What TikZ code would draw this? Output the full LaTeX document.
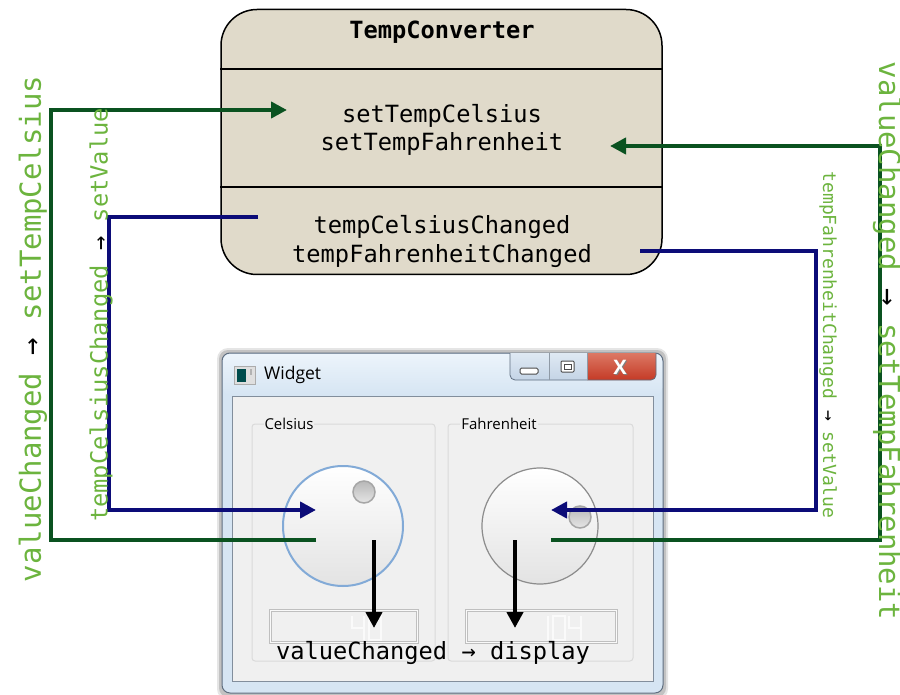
\documentclass[tikz,border=0pt]{standalone}
\usepackage{fontspec}
\setmonofont{DejaVu Sans Mono}
\newfontfamily\uifont{Open Sans}
\usetikzlibrary{arrows.meta}
\definecolor{boxfill}{RGB}{224,218,202}
\definecolor{sigGreen}{RGB}{10,82,32}
\definecolor{sigNavy}{RGB}{12,12,120}
\definecolor{lblGreen}{RGB}{108,180,62}
\definecolor{clientbg}{RGB}{240,240,240}
\definecolor{framebl}{RGB}{214,229,243}
\definecolor{frametop}{RGB}{236,244,251}
\definecolor{winborder}{RGB}{95,110,128}
\definecolor{clientborder}{RGB}{130,142,156}
\definecolor{groupborder}{RGB}{218,218,218}
\definecolor{closeTop}{RGB}{232,150,130}
\definecolor{closeBot}{RGB}{196,58,38}
\definecolor{btnTop}{RGB}{236,243,250}
\definecolor{btnBot}{RGB}{196,212,230}
\definecolor{dialBlue}{RGB}{130,170,215}
\begin{document}
\begin{tikzpicture}[x=1pt,y=-1pt,
  conn/.style={line width=4.5pt},
  tipend/.style={-{Triangle[length=16pt,width=16pt]}},
  monotxt/.style={font=\ttfamily\fontsize{23.7}{28}\selectfont, inner sep=0pt},
  biglbl/.style={font=\ttfamily\fontsize{29}{34}\selectfont, text=lblGreen, inner sep=0pt},
  lcdseg/.style={draw=gray!45, line width=0.6pt, double=white!96!gray, double distance=1.3pt},
  lcdfour/.pic={\draw[lcdseg] (0,0)--(0,12)--(12,12); \draw[lcdseg] (12,0)--(12,24);},
  lcdzero/.pic={\draw[lcdseg] (0,0) rectangle (12,24);},
  lcdone/.pic={\draw[lcdseg] (12,0)--(12,24);},
  uitxt/.style={font=\uifont\fontsize{15}{18}\selectfont, inner sep=1pt, text=black},
]
\useasboundingbox (0,0) rectangle (900,695);
\fill[white] (0,0) rectangle (900,695);

% ================= Widget window =================
\fill[black, opacity=0.10, rounded corners=11] (217,348) rectangle (668,700);
\fill[black, opacity=0.15, rounded corners=9] (219,350) rectangle (666,697);
\draw[fill=framebl, draw=winborder, line width=1pt, rounded corners=8] (222,353) rectangle (663,693);
\shade[top color=frametop, bottom color=framebl, rounded corners=7] (223,354) rectangle (662,395);
\node[draw=clientborder, fill=clientbg, line width=1pt, minimum width=421pt, minimum height=285pt, inner sep=0pt] (client) at (442.5,538.5) {};
% icon
\draw[fill=gray!25, draw=gray!65] (234,366) rectangle (255,384);
\fill[teal!60!black] (237,369) rectangle (246,382);
\fill[gray!60] (250,369) rectangle (252,375);
\node[font=\uifont\fontsize{17.5}{20}\selectfont, anchor=west, inner sep=0pt] (wtitle) at (264,375) {Widget};
% title buttons
\begin{scope}
  \clip (505,353) rectangle (660,390);
  \shade[top color=btnTop, bottom color=btnBot, rounded corners=5] (510,340) rectangle (656,380);
  \begin{scope}
    \clip (587,353) rectangle (660,390);
    \shade[top color=closeTop, bottom color=closeBot, rounded corners=5] (510,340) rectangle (656,380);
  \end{scope}
  \draw[winborder, line width=0.8pt, rounded corners=5] (510,340) rectangle (656,380);
\end{scope}
\draw[winborder!70, line width=0.8pt] (549,353) -- (549,380) (587,353) -- (587,380);
\draw[fill=white, draw=gray!60!black, line width=1pt, rounded corners=1.5] (520,368) rectangle (538,374);
\draw[fill=white, draw=gray!60!black, line width=1pt, rounded corners=1] (561,361) rectangle (574,372);
\draw[gray!60!black, line width=0.8pt] (564,364) rectangle (571,369);
\node[font=\uifont\bfseries\fontsize{20}{20}\selectfont, text=black!50, inner sep=0pt] (xshadow) at (621,368) {X};
\node[font=\uifont\bfseries\fontsize{20}{20}\selectfont, text=white, inner sep=0pt] (xbtn) at (620,367) {X};
% group boxes
\draw[groupborder, line width=1pt, rounded corners=3] (252,424) rectangle (435,661);
\draw[groupborder, line width=1pt, rounded corners=3] (448,424) rectangle (633,661);
\node[uitxt, fill=clientbg] (celsiusLbl) at (289,424) {Celsius};
\node[uitxt, fill=clientbg] (fahrLbl) at (499,424) {Fahrenheit};
% dials
\node[circle, draw=dialBlue, line width=2pt, minimum size=120pt, inner sep=0pt, top color=white, bottom color=black!11] (cdial) at (343,526) {};
\node[circle, draw=black!45, line width=1.2pt, minimum size=116pt, inner sep=0pt, top color=white, bottom color=black!11] (fdial) at (540,526) {};
\node[circle, draw=black!35, line width=1.5pt, minimum size=22pt, inner sep=0pt, top color=black!28, bottom color=black!10] (cknob) at (364,492) {};
\node[circle, draw=black!35, line width=1.5pt, minimum size=22pt, inner sep=0pt, top color=black!28, bottom color=black!10] (fknob) at (580,517) {};
% LCDs
\node[draw=gray!50, line width=1pt, double=white!95!gray, double distance=1.5pt, minimum width=147pt, minimum height=32pt, inner sep=0pt] (clcd) at (344,626.5) {};
\node[draw=gray!50, line width=1pt, double=white!95!gray, double distance=1.5pt, minimum width=150pt, minimum height=32pt, inner sep=0pt] (flcd) at (541.5,626.5) {};
\pic at (352,616) {lcdfour};
\pic at (369,616) {lcdzero};
\pic at (536,616) {lcdone};
\pic at (553,616) {lcdzero};
\pic at (569,616) {lcdfour};

% ================= TempConverter box =================
\node[draw=black, fill=boxfill, line width=1.5pt, rounded corners=36pt, minimum width=441pt, minimum height=265pt, inner sep=0pt] (tc) at (441.5,142) {};
\coordinate (d1) at (0,69);
\coordinate (d2) at (0,187);
\draw[line width=1.5pt] (tc.west |- d1) -- (tc.east |- d1);
\draw[line width=1.5pt] (tc.west |- d2) -- (tc.east |- d2);
\node[monotxt, font=\ttfamily\bfseries\fontsize{23.7}{28}\selectfont, anchor=base] (title) at (442,39) {TempConverter};
\node[monotxt, anchor=base] (slotA) at (442,123) {setTempCelsius};
\node[monotxt, anchor=base] (slotB) at (442,151) {setTempFahrenheit};
\node[monotxt, anchor=base] (sigA) at (442,234) {tempCelsiusChanged};
\node[monotxt, anchor=base] (sigB) at (442,262) {tempFahrenheitChanged};

% ================= connector end points =================
\coordinate (cgo) at (316,540);
\coordinate (fgo) at (551,540);
\coordinate (cset) at (316,510);
\coordinate (fset) at (551,510);
\coordinate (stcIn) at (287,110);
\coordinate (stfIn) at (610,146);
\coordinate (tccOut) at (258,217);
\coordinate (tfcOut) at (640,251);
\coordinate (cdispOut) at (374,540);
\coordinate (fdispOut) at (515,540);
\coordinate (cdispIn) at (374,628);
\coordinate (fdispIn) at (515,628);

% green: valueChanged -> setTemp*
\draw[conn, sigGreen, tipend] (cgo) -- ++(-265,0) |- (stcIn);
\draw[conn, sigGreen, tipend] (fgo) -- ++(329,0) |- (stfIn);
% navy: temp*Changed -> setValue
\draw[conn, sigNavy, tipend] (tccOut) -- ++(-149,0) |- (cset);
\draw[conn, sigNavy, tipend] (tfcOut) -- ++(176,0) |- (fset);
% black: valueChanged -> display
\draw[line width=4pt, black, tipend] (cdispOut) -- (cdispIn);
\draw[line width=4pt, black, tipend] (fdispOut) -- (fdispIn);

% ================= labels =================
\node[biglbl, rotate=90] (lblL) at (33,329) {valueChanged \textcolor{black}{→} setTempCelsius};
\node[monotxt, text=lblGreen, rotate=90] (lblLs) at (101,315) {tempCelsiusChanged \textcolor{black}{→} setValue};
\node[biglbl, rotate=-90] (lblR) at (887,341) {valueChanged \textcolor{black}{→} setTempFahrenheit};
\node[monotxt, font=\ttfamily\fontsize{18}{22}\selectfont, text=lblGreen, rotate=-90] (lblRs) at (828,345) {tempFahrenheitChanged \textcolor{black}{→} setValue};
\node[monotxt, anchor=base] (dispLbl) at (433,659) {valueChanged → display};
\end{tikzpicture}
\end{document}
